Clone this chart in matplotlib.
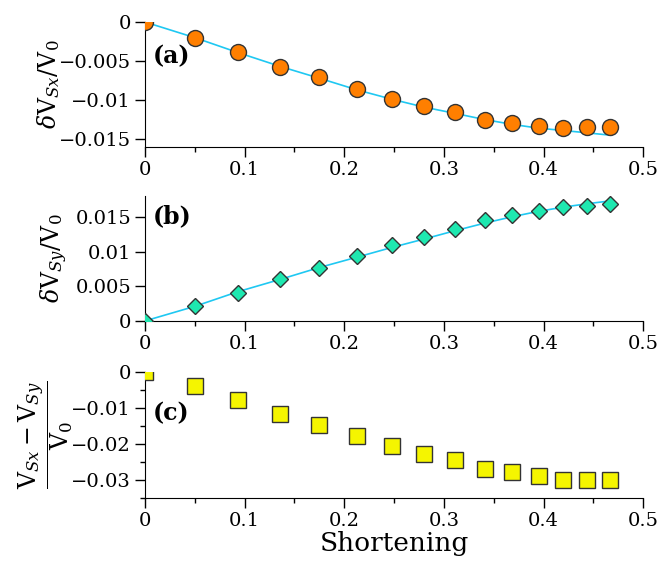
import numpy as np
import matplotlib
matplotlib.use('Agg')
import matplotlib.pyplot as plt
from matplotlib.ticker import MultipleLocator

plt.rcParams.update({
    'font.family': 'DejaVu Serif',
    'mathtext.fontset': 'dejavuserif',
    'axes.unicode_minus': True,
})

# ---------- data ----------
shortening = [0, 0.05, 0.093, 0.136, 0.175, 0.213, 0.248, 0.28, 0.311,
              0.341, 0.368, 0.395, 0.42, 0.444, 0.467]

dvsx = [0, -0.0020, -0.0039, -0.0057, -0.0071, -0.0086, -0.0098, -0.0108,
        -0.0115, -0.0126, -0.0129, -0.0133, -0.0136, -0.0135, -0.0135]
dvsx_fit = [0, -0.0020, -0.0039, -0.0057, -0.0072, -0.0087, -0.0099, -0.0109,
            -0.0117, -0.0125, -0.0131, -0.0136, -0.0139, -0.0142, -0.0145]

dvsy = [0, 0.0021, 0.0040, 0.0061, 0.0077, 0.0094, 0.0109, 0.0121,
        0.0132, 0.0145, 0.0152, 0.0158, 0.0164, 0.0166, 0.0168]
dvsy_fit = [0, 0.0021, 0.0042, 0.0060, 0.0077, 0.0092, 0.0106, 0.0118,
            0.0130, 0.0141, 0.0150, 0.0158, 0.0164, 0.0169, 0.0173]

split = [0, -0.0040, -0.0078, -0.0116, -0.0148, -0.0179, -0.0205, -0.0228,
         -0.0246, -0.0270, -0.0279, -0.0290, -0.0300, -0.0300, -0.0300]

xticks = [0, 0.1, 0.2, 0.3, 0.4, 0.5]
xtick_labels = ['0', '0.1', '0.2', '0.3', '0.4', '0.5']
a_yticks = [0, -0.005, -0.01, -0.015]
a_ylabels = ['0', '\u22120.005', '\u22120.01', '\u22120.015']
b_yticks = [0, 0.005, 0.01, 0.015]
b_ylabels = ['0', '0.005', '0.01', '0.015']
c_yticks = [0, -0.01, -0.02, -0.03]
c_ylabels = ['0', '\u22120.01', '\u22120.02', '\u22120.03']

line_col = '#1fc8f2'
edge = '#333333'

fig = plt.figure(figsize=(6.59, 5.65), dpi=100)
left, width = 0.220, 0.756
ax_a = fig.add_axes([left, 0.740, width, 0.221])
ax_b = fig.add_axes([left, 0.432, width, 0.221])
ax_c = fig.add_axes([left, 0.119, width, 0.223])


def style(ax, yticks, ylabels, ylim):
    for s in ['top', 'right']:
        ax.spines[s].set_visible(False)
    ax.set_xlim(0, 0.5)
    ax.set_ylim(*ylim)
    ax.set_xticks(xticks)
    ax.set_xticklabels(xtick_labels)
    ax.xaxis.set_minor_locator(MultipleLocator(0.05))
    ax.set_yticks(yticks)
    ax.set_yticklabels(ylabels)
    ax.tick_params(which='major', direction='out', length=7, width=1, labelsize=14, pad=3)
    ax.tick_params(which='minor', direction='out', length=3.5, width=1)


# (a)
ax_a.plot(shortening, dvsx_fit, color=line_col, lw=1.2, zorder=2)
ax_a.plot(shortening, dvsx, 'o', ms=11.5, mfc='#ff7f00', mec=edge, mew=1.0, zorder=3)
style(ax_a, a_yticks, a_ylabels, (-0.016, 0))
ax_a.set_ylabel(r'$\delta \mathrm{V}_{Sx}/\mathrm{V}_0$', fontsize=17)
ax_a.yaxis.set_label_coords(-0.167, 0.5)
ax_a.text(0.016, 0.73, '(a)', transform=ax_a.transAxes, fontsize=17,
          fontweight='bold', va='center', ha='left')

# (b)
ax_b.plot(shortening, dvsy_fit, color=line_col, lw=1.2, zorder=2)
ax_b.plot(shortening, dvsy, 'D', ms=8, mfc='#1ee8b0', mec=edge, mew=1.0, zorder=3)
style(ax_b, b_yticks, b_ylabels, (0, 0.018))
ax_b.set_ylabel(r'$\delta \mathrm{V}_{Sy}/\mathrm{V}_0$', fontsize=17)
ax_b.yaxis.set_label_coords(-0.15, 0.5)
ax_b.text(0.016, 0.835, '(b)', transform=ax_b.transAxes, fontsize=17,
          fontweight='bold', va='center', ha='left')

# (c)
ax_c.plot(shortening, split, 's', ms=11, mfc='#f5f500', mec=edge, mew=1.0, zorder=3)
style(ax_c, c_yticks, c_ylabels, (-0.035, 0))
ax_c.yaxis.set_minor_locator(MultipleLocator(0.005))
ax_c.set_ylabel(r'$\dfrac{\mathrm{V}_{Sx}-\mathrm{V}_{Sy}}{\mathrm{V}_0}$', fontsize=17)
ax_c.yaxis.set_label_coords(-0.14, 0.5)
ax_c.text(0.016, 0.67, '(c)', transform=ax_c.transAxes, fontsize=17,
          fontweight='bold', va='center', ha='left')
ax_c.set_xlabel('Shortening', fontsize=19, labelpad=1)

fig.savefig('out.png', dpi=100)
